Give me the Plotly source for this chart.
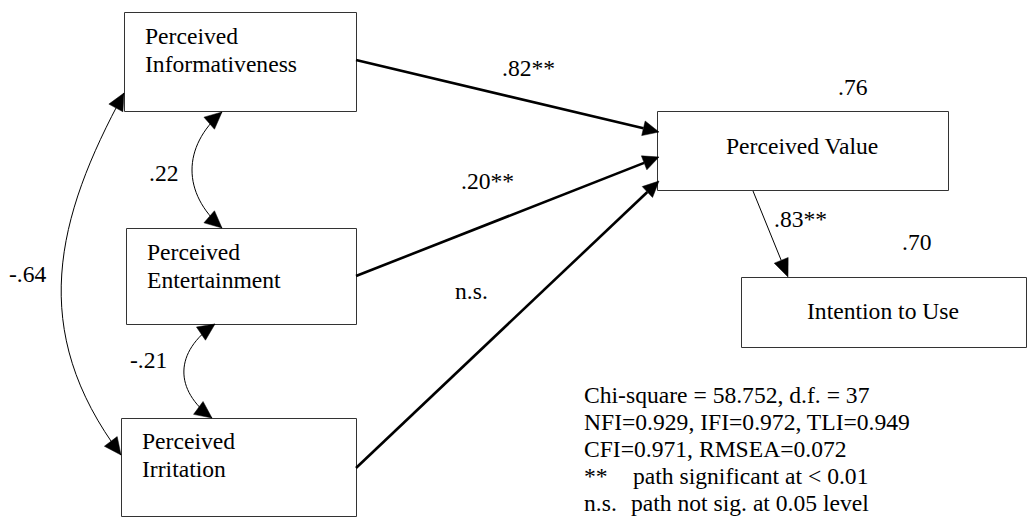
import math
import plotly.graph_objects as go

# ---------------- data (text / values) ----------------
node_lines = [
    ["Perceived", "Informativeness"],
    ["Perceived", "Entertainment"],
    ["Perceived", "Irritation"],
    ["Perceived Value"],
    ["Intention to Use"],
]
path_labels = [".82**", ".20**", "n.s.", ".83**"]
corr_labels = [".22", "-.21", "-.64"]
r2_labels = [".76", ".70"]
fit_lines = [
    "Chi-square = 58.752, d.f. = 37",
    "NFI=0.929, IFI=0.972, TLI=0.949",
    "CFI=0.971, RMSEA=0.072",
]
legend_keys = ["**", "n.s."]
legend_texts = ["path significant at < 0.01", "path not sig. at 0.05 level"]

# ---------------- layout (pixel geometry) ----------------
W, H = 1029, 518
FONT = "Liberation Serif, Times New Roman, serif"
FS = 23.6
boxes = [(124, 12, 356, 111), (126, 228, 356, 324), (121, 418, 356, 516),
         (657, 111, 948, 190), (741, 277, 1026, 347)]
node_text_pos = [
    [(143, 36, "left"), (143, 64, "left")],
    [(145, 252, "left"), (145, 280, "left")],
    [(140, 441, "left"), (140, 469, "left")],
    [(802, 146, "center")],
    [(883, 311, "center")],
]
paths = [((356, 60), (659, 132), 2.6),
         ((356, 276), (659, 157), 2.6),
         ((356, 468), (659, 181), 2.6),
         ((753, 191), (788, 277), 1.0)]
path_label_pos = [(500, 68), (459, 181), (453, 291), (772, 219)]
# cubic curves: p0, c1, c2, p3
curves = [((222, 112), (182, 147), (182, 193), (222, 228)),
          ((215, 324), (174, 352), (174, 390), (212, 418)),
          ((124, 93), (56, 218), (27, 330), (121, 455))]
corr_label_pos = [(147, 173), (128, 360), (7, 274)]
r2_pos = [(836, 87), (900, 242)]
fit_pos_x, fit_y0, fit_dy = 582, 395, 27
legend_text_x = [631, 629]

shapes = []
annotations = []

def tri(tip, frm, L, hw):
    ux, uy = tip[0] - frm[0], tip[1] - frm[1]
    d = math.hypot(ux, uy)
    ux, uy = ux / d, uy / d
    bx, by = tip[0] - L * ux, tip[1] - L * uy
    nx, ny = -uy, ux
    p = "M {:.2f},{:.2f} L {:.2f},{:.2f} L {:.2f},{:.2f} Z".format(
        tip[0], tip[1], bx + hw * nx, by + hw * ny, bx - hw * nx, by - hw * ny)
    shapes.append(dict(type="path", path=p, xref="x", yref="y",
                       fillcolor="black", line=dict(color="black", width=0.5)))
    return (bx, by)

# boxes
for (x0, y0, x1, y1) in boxes:
    shapes.append(dict(type="rect", x0=x0 + 0.5, y0=y0 + 0.5, x1=x1 + 0.5, y1=y1 + 0.5,
                       xref="x", yref="y", line=dict(color="#333333", width=1),
                       fillcolor="rgba(0,0,0,0)"))

# node texts
for lines, poss in zip(node_lines, node_text_pos):
    for t, (x, y, anc) in zip(lines, poss):
        annotations.append(dict(x=x, y=y, text=t, xanchor=anc, yanchor="middle",
                                showarrow=False, xref="x", yref="y",
                                font=dict(family=FONT, size=FS, color="black")))

# straight paths
for (p0, p1, w) in paths:
    L = 16 if w > 2 else 18
    hw = 7.5
    base = tri(p1, p0, L, hw)
    shapes.append(dict(type="line", x0=p0[0], y0=p0[1], x1=base[0], y1=base[1],
                       xref="x", yref="y", line=dict(color="black", width=w)))

# curved correlations
for (p0, c1, c2, p3) in curves:
    shapes.append(dict(type="path", xref="x", yref="y",
                       path="M {},{} C {},{} {},{} {},{}".format(*p0, *c1, *c2, *p3),
                       line=dict(color="black", width=1)))
    tri(p0, c1, 17, 8)
    tri(p3, c2, 17, 8)

def label(x, y, t, anc="left"):
    annotations.append(dict(x=x, y=y, text=t, xanchor=anc, yanchor="middle",
                            showarrow=False, xref="x", yref="y",
                            font=dict(family=FONT, size=FS, color="black")))

for t, (x, y) in zip(path_labels, path_label_pos):
    label(x, y, t)
for t, (x, y) in zip(corr_labels, corr_label_pos):
    label(x, y, t)
for t, (x, y) in zip(r2_labels, r2_pos):
    label(x, y, t)
for i, t in enumerate(fit_lines):
    label(fit_pos_x, fit_y0 + i * fit_dy, t)
for i, (k, t) in enumerate(zip(legend_keys, legend_texts)):
    y = fit_y0 + (len(fit_lines) + i) * fit_dy
    label(fit_pos_x, y, k)
    label(legend_text_x[i], y, t)

fig = go.Figure()
fig.add_trace(go.Scatter(x=[0, W], y=[0, H], mode="markers",
                         marker=dict(opacity=0), hoverinfo="skip", showlegend=False))
fig.update_layout(
    width=W, height=H, margin=dict(l=0, r=0, t=0, b=0),
    paper_bgcolor="white", plot_bgcolor="white",
    xaxis=dict(range=[0, W], visible=False, fixedrange=True),
    yaxis=dict(range=[H, 0], visible=False, fixedrange=True),
    shapes=shapes, annotations=annotations, showlegend=False,
)
fig.write_html(
    "out.html",
    config={"displayModeBar": False},
    post_script="document.body.style.margin='0px';document.body.style.padding='0px';"
                "document.body.style.overflow='hidden';",
)
